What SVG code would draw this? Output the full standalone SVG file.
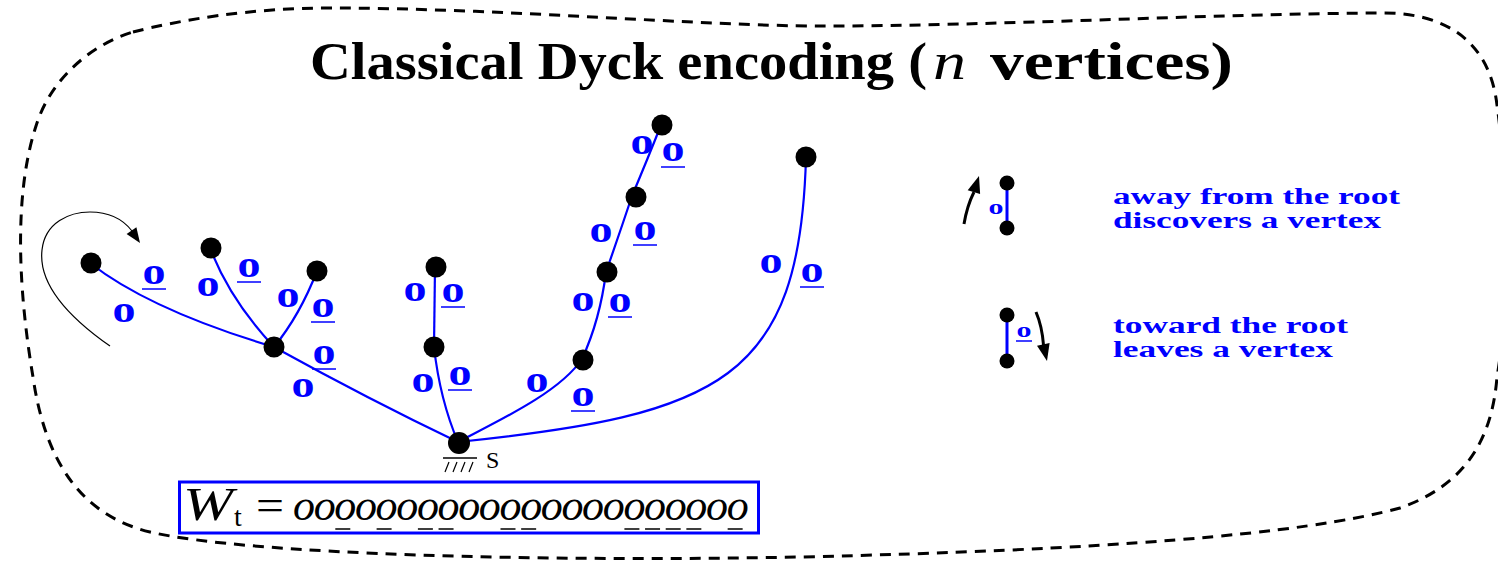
<svg xmlns="http://www.w3.org/2000/svg" width="1498" height="563" viewBox="0 0 1498 563">
<style>
.edge{fill:none;stroke:#0000ff;stroke-width:2.2}
.node{fill:#000}
.lab{font-family:'Liberation Serif',serif;font-weight:bold;font-size:38px;fill:#0000ff;text-anchor:middle}
.slab{font-family:'Liberation Serif',serif;font-weight:bold;font-size:22px;fill:#0000ff;text-anchor:middle}
.ul{stroke:#0000ff;stroke-width:1.5}
.leg{font-family:'Liberation Serif',serif;font-weight:bold;font-size:24px;fill:#0000ff}
.title{font-family:'Liberation Serif',serif;font-weight:bold;font-size:52px;fill:#000}
.math{font-family:'Liberation Serif',serif;fill:#000}
.wul{stroke:#000;stroke-width:1.6}
</style>

<g id="outline">
<path d="M133,32 C180,20 250,8 330,8 C500,8 700,26 820,26 C1000,26 1200,14 1380,13 C1450,12 1490,45 1497,105 C1510,200 1510,300 1497,377 C1492,440 1465,485 1400,508 C1300,535 1100,550 800,557 C550,562 250,555 150,532 C80,515 45,460 33,377 C20,300 12,200 36,126 C50,80 90,45 133,32 Z" fill="none" stroke="#000" stroke-width="3" stroke-dasharray="11 8"/>
</g>

<g id="title">
<text class="title" x="310" y="79" textLength="617" lengthAdjust="spacingAndGlyphs">Classical Dyck encoding (</text>
<text class="math" x="933" y="79" font-size="52" font-style="italic" textLength="33" lengthAdjust="spacingAndGlyphs">n</text>
<text class="title" x="990" y="79" textLength="243" lengthAdjust="spacingAndGlyphs">vertices)</text>
</g>

<g id="connectors">
<path class="edge" d="M274,347 Q370,400 458,442"/>
<path class="edge" d="M90,263 Q150,310 274,347"/>
<path class="edge" d="M210,248 Q230,300 274,347"/>
<path class="edge" d="M317,271 Q300,315 274,347"/>
<path class="edge" d="M434,347 Q440,400 458,442"/>
<path class="edge" d="M435,267 L434,347"/>
<path class="edge" d="M458,442 C500,420 560,392 582,359"/>
<path class="edge" d="M582,359 Q600,320 606,272"/>
<path class="edge" d="M606,272 Q620,232 632,196"/>
<path class="edge" d="M632,196 Q648,158 661,125"/>
<path class="edge" d="M458,442 C720,415 800,380 806,157"/>
<path d="M110,346 C70,318 38,285 42,250 C45,222 70,212 90,212 C108,212 122,218 132,231" fill="none" stroke="#000" stroke-width="1.2"/>
<polygon points="140,243 136.4,227.3 126.6,234.1" fill="#000"/>
</g>

<g id="edge-labels">
<text class="lab" x="124" y="322" textLength="23" lengthAdjust="spacingAndGlyphs">o</text>
<text class="lab" x="154" y="284" textLength="23" lengthAdjust="spacingAndGlyphs">o</text>
<line class="ul" x1="142" y1="289" x2="166" y2="289"/>
<text class="lab" x="208" y="296" textLength="23" lengthAdjust="spacingAndGlyphs">o</text>
<text class="lab" x="249" y="277" textLength="23" lengthAdjust="spacingAndGlyphs">o</text>
<line class="ul" x1="237" y1="282" x2="261" y2="282"/>
<text class="lab" x="288" y="307" textLength="23" lengthAdjust="spacingAndGlyphs">o</text>
<text class="lab" x="323" y="317" textLength="23" lengthAdjust="spacingAndGlyphs">o</text>
<line class="ul" x1="311" y1="322" x2="335" y2="322"/>
<text class="lab" x="303" y="397" textLength="23" lengthAdjust="spacingAndGlyphs">o</text>
<text class="lab" x="324" y="364" textLength="23" lengthAdjust="spacingAndGlyphs">o</text>
<line class="ul" x1="312" y1="369" x2="336" y2="369"/>
<text class="lab" x="423" y="392" textLength="23" lengthAdjust="spacingAndGlyphs">o</text>
<text class="lab" x="460" y="385" textLength="23" lengthAdjust="spacingAndGlyphs">o</text>
<line class="ul" x1="448" y1="390" x2="472" y2="390"/>
<text class="lab" x="415" y="301" textLength="23" lengthAdjust="spacingAndGlyphs">o</text>
<text class="lab" x="453" y="302" textLength="23" lengthAdjust="spacingAndGlyphs">o</text>
<line class="ul" x1="441" y1="307" x2="465" y2="307"/>
<text class="lab" x="537" y="392" textLength="23" lengthAdjust="spacingAndGlyphs">o</text>
<text class="lab" x="583" y="406" textLength="23" lengthAdjust="spacingAndGlyphs">o</text>
<line class="ul" x1="571" y1="411" x2="595" y2="411"/>
<text class="lab" x="583" y="311" textLength="23" lengthAdjust="spacingAndGlyphs">o</text>
<text class="lab" x="620" y="312" textLength="23" lengthAdjust="spacingAndGlyphs">o</text>
<line class="ul" x1="608" y1="317" x2="632" y2="317"/>
<text class="lab" x="601" y="242" textLength="23" lengthAdjust="spacingAndGlyphs">o</text>
<text class="lab" x="645" y="240" textLength="23" lengthAdjust="spacingAndGlyphs">o</text>
<line class="ul" x1="633" y1="245" x2="657" y2="245"/>
<text class="lab" x="642" y="154" textLength="23" lengthAdjust="spacingAndGlyphs">o</text>
<text class="lab" x="673" y="161" textLength="23" lengthAdjust="spacingAndGlyphs">o</text>
<line class="ul" x1="661" y1="167" x2="685" y2="167"/>
<text class="lab" x="771" y="273" textLength="23" lengthAdjust="spacingAndGlyphs">o</text>
<text class="lab" x="812" y="282" textLength="23" lengthAdjust="spacingAndGlyphs">o</text>
<line class="ul" x1="800" y1="287" x2="824" y2="287"/>
</g>

<g id="node-S">
<circle class="node" cx="459" cy="443" r="11"/>
<line x1="443" y1="458" x2="477" y2="458" stroke="#000" stroke-width="1.5"/>
<path d="M445,472 L449,462 M453,472 L457,462 M461,472 L465,462 M469,472 L473,462" stroke="#000" stroke-width="1.2"/>
<text class="math" x="486" y="468" font-size="24">S</text>
</g>
<g id="node-A"><circle class="node" cx="274" cy="347" r="10.5"/></g>
<g id="node-L1"><circle class="node" cx="91" cy="263" r="10.5"/></g>
<g id="node-L2"><circle class="node" cx="211" cy="248" r="10.5"/></g>
<g id="node-L3"><circle class="node" cx="317" cy="271" r="10.5"/></g>
<g id="node-M1"><circle class="node" cx="434" cy="347" r="10.5"/></g>
<g id="node-M2"><circle class="node" cx="436" cy="267" r="10.5"/></g>
<g id="node-C1"><circle class="node" cx="583" cy="360" r="10.5"/></g>
<g id="node-C2"><circle class="node" cx="607" cy="272" r="10.5"/></g>
<g id="node-C3"><circle class="node" cx="636" cy="197" r="10.5"/></g>
<g id="node-C4"><circle class="node" cx="662" cy="125" r="10.5"/></g>
<g id="node-R"><circle class="node" cx="806" cy="157" r="10.5"/></g>

<g id="legend-away">
<line x1="1007" y1="183" x2="1007" y2="228" stroke="#0000ff" stroke-width="3"/>
<circle class="node" cx="1007" cy="183" r="7.5"/>
<circle class="node" cx="1007" cy="228" r="7.5"/>
<text class="slab" x="996" y="214" textLength="15" lengthAdjust="spacingAndGlyphs">o</text>
<path d="M964,224 Q967,206 974,192" fill="none" stroke="#000" stroke-width="3"/>
<polygon points="979,176 980.1,194.1 967.7,190.3" fill="#000"/>
<text class="leg" x="1113" y="204" textLength="287" lengthAdjust="spacingAndGlyphs">away from the root</text>
<text class="leg" x="1113" y="228" textLength="268" lengthAdjust="spacingAndGlyphs">discovers a vertex</text>
</g>

<g id="legend-toward">
<line x1="1007" y1="315" x2="1007" y2="361" stroke="#0000ff" stroke-width="3"/>
<circle class="node" cx="1007" cy="315" r="7.5"/>
<circle class="node" cx="1007" cy="361" r="7.5"/>
<text class="slab" x="1024" y="337" textLength="15" lengthAdjust="spacingAndGlyphs">o</text>
<line class="ul" x1="1016" y1="341" x2="1032" y2="341"/>
<path d="M1036,312 Q1042,326 1043.5,345" fill="none" stroke="#000" stroke-width="3"/>
<polygon points="1047,361 1049.6,343 1037,345.8" fill="#000"/>
<text class="leg" x="1113" y="333" textLength="235" lengthAdjust="spacingAndGlyphs">toward the root</text>
<text class="leg" x="1113" y="357" textLength="220" lengthAdjust="spacingAndGlyphs">leaves a vertex</text>
</g>

<g id="word-box">
<rect x="179.5" y="482" width="579" height="51" fill="none" stroke="#0000ff" stroke-width="3"/>
<text class="math" x="183" y="520" font-size="46" font-style="italic" textLength="50" lengthAdjust="spacingAndGlyphs">W</text>
<text class="math" x="234" y="526" font-size="28">t</text>
<text class="math" x="256" y="520" font-size="44" textLength="28" lengthAdjust="spacingAndGlyphs">=</text>
<text class="math" y="520" font-size="44" font-style="italic" x="293 313.65 334.3 354.95 375.6 396.25 416.9 437.55 458.2 478.85 499.5 520.15 540.8 561.45 582.1 602.75 623.4 644.05 664.7 685.35 706 726.65">oooooooooooooooooooooo</text>
<path class="wul" d="M335.3,529 H350.3 M376.6,529 H391.6 M417.9,529 H432.9 M438.55,529 H453.55 M500.5,529 H515.5 M521.15,529 H536.15 M624.4,529 H639.4 M645.05,529 H660.05 M665.7,529 H680.7 M686.35,529 H701.35 M727.65,529 H742.65"/>
</g>
</svg>
